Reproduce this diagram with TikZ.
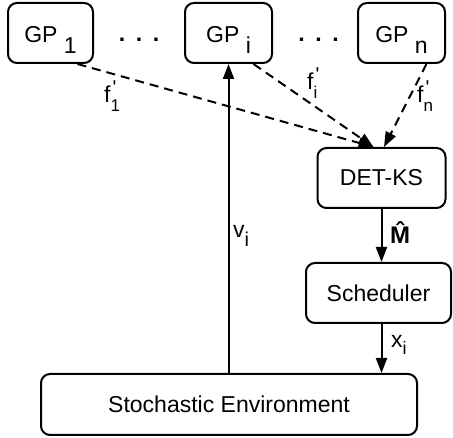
\documentclass[tikz,border=0pt]{standalone}
\usepackage{fontspec}
\setmainfont{Liberation Sans}
\usetikzlibrary{arrows.meta,calc}
\newcommand{\gp}[1]{\rule{0pt}{31pt}GP \raisebox{-11pt}{#1}}
\newcommand{\fp}[1]{f\makebox[0pt][l]{\hspace{2pt}\raisebox{8pt}{\fontsize{20}{20}\selectfont\textquotesingle}}\raisebox{-9pt}{\fontsize{17}{17}\selectfont #1}}
\begin{document}
\begin{tikzpicture}[x=1pt,y=-1pt,
  box/.style={draw, line width=2pt, rounded corners=9pt, inner sep=0pt, font=\fontsize{23}{27}\selectfont},
  lbl/.style={inner sep=0pt, anchor=base west, font=\fontsize{23}{27}\selectfont},
  arr/.style={line width=2pt, -{Triangle[length=15pt,width=11pt]}},
  darr/.style={arr, dash pattern=on 9pt off 6pt}]
\useasboundingbox (0,0) rectangle (453,438);
% boxes
\node[box, minimum width=85pt, minimum height=60pt] (gp1) at (50.5,33) {\gp{1}};
\node[box, minimum width=87pt, minimum height=60pt] (gpi) at (228.5,33) {\gp{i}};
\node[box, minimum width=87pt, minimum height=60pt] (gpn) at (401.5,33) {\gp{n}};
\node[box, minimum width=128pt, minimum height=60pt] (det) at (381.5,178) {DET-KS};
\node[box, minimum width=145pt, minimum height=60pt] (sched) at (378.5,293) {Scheduler};
\node[box, minimum width=376pt, minimum height=61pt] (env) at (229,404.5) {Stochastic Environment};
% dots
\node[lbl, anchor=center] (dots1) at (139,40) {\bfseries .\hspace{10.6pt}.\hspace{10.6pt}.};
\node[lbl, anchor=center] (dots2) at (318.5,40) {\bfseries .\hspace{10.6pt}.\hspace{10.6pt}.};
% connectors
\draw[arr] (env.north -| gpi.south) -- (gpi.south);
\draw[arr] (det.south) -- (det.south |- sched.north);
\draw[arr] (det.south |- sched.south) -- (det.south |- env.north);
\coordinate (t1) at ($(det.north)+(-8,0)$);
\coordinate (tn) at ($(det.north)+(2.5,0)$);
\draw[darr] ($(gp1.south)+(27,0)$) -- (t1);
\draw[darr] ($(gpi.south)+(25,0)$) -- (t1);
\draw[darr] ($(gpn.south)+(25,0)$) -- (tn);
% labels
\node[lbl] (f1) at (104,103) {\fp{1}};
\node[lbl] (fi) at (307,90) {\fp{i}};
\node[lbl] (fn) at (417,103) {\fp{n}};
\node[lbl] (vl) at (233,238) {v\raisebox{-9pt}{\fontsize{20}{20}\selectfont i}};
\node[lbl] (ml) at (390,244) {\fontsize{24}{24}\selectfont\bfseries \^{M}};
\node[lbl] (xl) at (391,348) {x\raisebox{-7pt}{\fontsize{18}{18}\selectfont i}};
\end{tikzpicture}
\end{document}
